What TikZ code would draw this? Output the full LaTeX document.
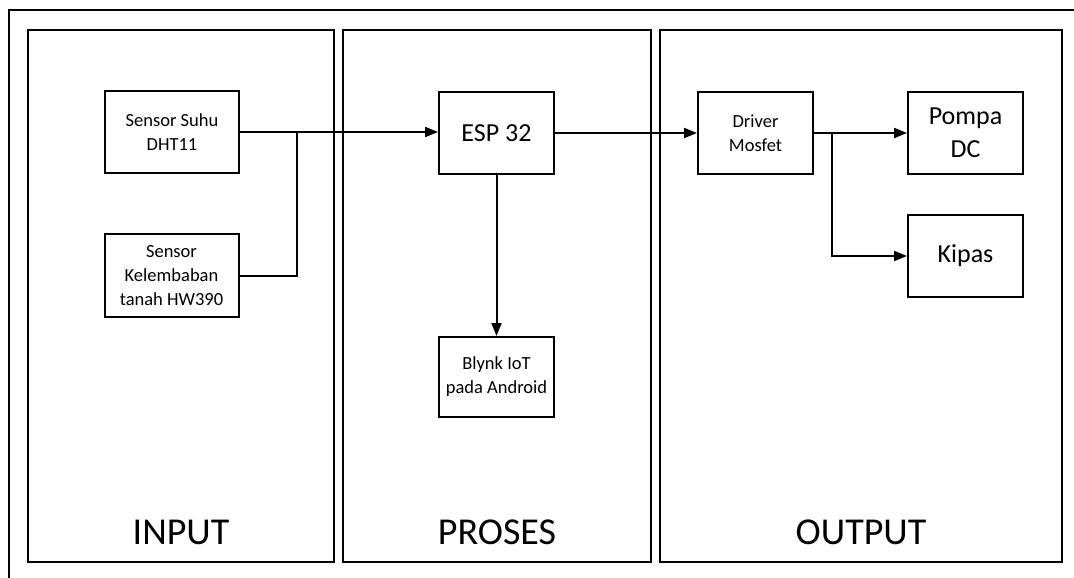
\documentclass[tikz,border=0pt]{standalone}
\usepackage{fontspec}
\setmainfont{Carlito}
\usetikzlibrary{arrows.meta}
\tikzset{
	blok/.style={draw=black, line width=2pt, inner sep=0pt, align=center, minimum width=115pt, minimum height=82pt},
	kecil/.style={font=\fontsize{18.5}{24}\selectfont},
	besar/.style={font=\fontsize{26}{33}\selectfont},
	panel/.style={draw=black, line width=2.2pt},
	judul/.style={font=\fontsize{38}{40}\selectfont},
	garis/.style={draw=black, line width=2pt},
	panah/.style={garis, -{Triangle[length=13pt,width=10pt]}},
}
\begin{document}
\begin{tikzpicture}[x=1pt, y=-1pt]
	\useasboundingbox (0,0) rectangle (1074,578);
	% bingkai luar
	\draw[draw=black, line width=2pt] (9,578) -- (9,10) -- (1074,10);
	% tiga panel
	\draw[panel] (28,30) rectangle (334,562);
	\draw[panel] (343,30) rectangle (651,562);
	\draw[panel] (660,30) rectangle (1062,562);
	\node[judul] (lblin) at (181,532) {INPUT};
	\node[judul] (lblproses) at (497,532) {PROSES};
	\node[judul] (lblout) at (861,532) {OUTPUT};
	% blok
	\node[blok, kecil, minimum width=134pt] (dht) at (172,132) {Sensor Suhu\\DHT11};
	\node[blok, kecil, minimum width=134pt, minimum height=83pt] (hw) at (171.5,275.5) {Sensor\\Kelembaban\\tanah HW390};
	\node[blok, besar] (esp) at (496.5,133) {ESP 32};
	\node[blok, kecil, minimum height=80pt] (blynk) at (496.5,377) {Blynk IoT\\pada Android};
	\node[blok, kecil] (drv) at (755.5,133) {Driver\\Mosfet};
	\node[blok, besar] (pompa) at (965.5,133) {Pompa\\DC};
	\node[blok, besar] (kipas) at (965.5,256) {Kipas};
	% penghubung
	\coordinate (jin) at (297,132);
	\coordinate (jout) at (832,133);
	\draw[panah] (dht.east) -- (dht.east -| esp.west);
	\draw[garis] (hw.east) -| (jin);
	\draw[panah] (esp.south) -- (blynk.north);
	\draw[panah] (esp.east) -- (drv.west);
	\draw[panah] (drv.east) -- (pompa.west);
	\draw[panah] (jout) |- (kipas.west);
\end{tikzpicture}
\end{document}
